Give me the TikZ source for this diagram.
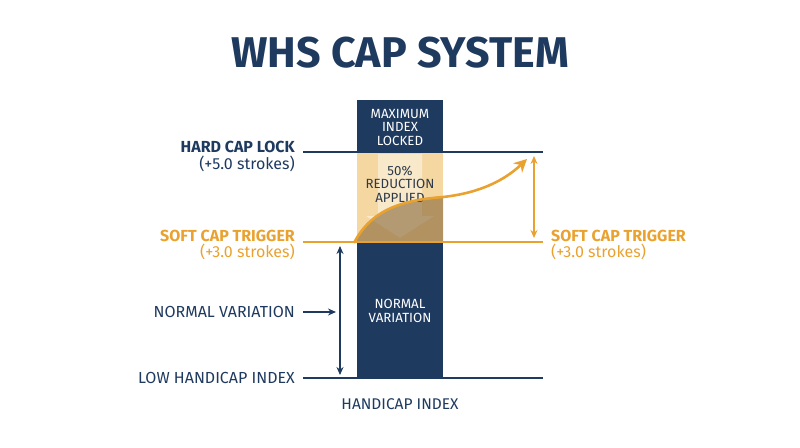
\documentclass[tikz,border=0pt]{standalone}
\usepackage{fontspec}
\setmainfont{Fira Sans}
\usetikzlibrary{arrows.meta}
\definecolor{navy}{HTML}{1E3A5F}
\definecolor{gold}{HTML}{E9A22F}
\definecolor{pale}{HTML}{F5D7A2}
\definecolor{brown}{HTML}{7A5A2A}
\definecolor{inktext}{HTML}{2E3A4A}
\tikzset{
  lbl/.style={font=\fontsize{16}{18}\selectfont, text=navy, inner sep=0pt},
  blbl/.style={font=\fontsize{16}{18}\selectfont\bfseries, inner sep=0pt},
  barlbl/.style={font=\fontsize{13.3}{13.5}\selectfont, text=white, align=center, inner sep=0pt},
  navyarrow/.style={draw=navy, line width=1.4pt, -{Stealth[length=8pt,width=7pt]}},
  goldarrow/.style={draw=gold, line width=1.6pt, {Stealth[length=8pt,width=7pt]}-{Stealth[length=8pt,width=7pt]}},
}
\begin{document}
\begin{tikzpicture}[x=1pt,y=-1pt]
\useasboundingbox (0,0) rectangle (800,447);
% title
\node[font=\fontsize{43}{46}\selectfont\bfseries, text=navy, inner sep=0pt] (title) at (400,53) {WHS CAP SYSTEM};
% bar parts
\fill[navy] (357,100) rectangle (443,152);
\fill[pale] (357,152) rectangle (443,242);
\fill[white, opacity=0.45] (378,154) -- (422,154) -- (422,216) -- (434,216) -- (400,238) -- (366,216) -- (378,216) -- cycle;
\begin{scope}
  \clip (357,152) rectangle (443,242);
  \fill[brown, opacity=0.55] (355,243) .. controls (372,208) and (405,200) .. (443,197) -- (445,243) -- cycle;
\end{scope}
\fill[navy] (357,242) rectangle (443,378);
% bar texts
\node[barlbl] (maxi) at (400,127) {MAXIMUM\\INDEX\\LOCKED};
\node[barlbl, text=inktext] (red) at (400,184) {50\%\\REDUCTION\\APPLIED};
\node[barlbl] (norm) at (400,311) {NORMAL\\VARIATION};
% lines
\coordinate (hl) at (303,152); \coordinate (hr) at (543,152);
\coordinate (sl) at (303,242); \coordinate (sr) at (543,242);
\coordinate (ll) at (303,378); \coordinate (lr) at (543,378);
\draw[navy, line width=2.6pt] (hl) -- (hr);
\draw[gold, line width=2.8pt] (sl) -- (sr);
\draw[navy, line width=1.6pt] (ll) -- (lr);
% orange curve
\coordinate (cs) at (354,243);
\coordinate (ce) at (527,159);
\draw[gold, line width=2.6pt, -{Stealth[length=13pt,width=13pt]}] (cs) .. controls (372,208) and (405,200) .. (443,197) .. controls (480,193) and (505,180) .. (ce);
% left labels
\node[blbl, text=navy, anchor=east] (hard) at (295,147) {HARD CAP LOCK};
\node[lbl, anchor=east] (hardv) at (295,164) {(+5.0 strokes)};
\node[blbl, text=gold, anchor=east] (soft) at (295,236) {SOFT CAP TRIGGER};
\node[lbl, text=gold, anchor=east] (softv) at (295,252) {(+3.0 strokes)};
\node[lbl, anchor=east] (nv) at (295,312) {NORMAL VARIATION};
\node[lbl, anchor=east] (low) at (295,378) {LOW HANDICAP INDEX};
% right labels
\node[blbl, text=gold, anchor=west] (soft2) at (551,236) {SOFT CAP TRIGGER};
\node[lbl, text=gold, anchor=west] (softv2) at (551,252) {(+3.0 strokes)};
% axis label
\node[lbl, font=\fontsize{15.5}{17}\selectfont] (axis) at (400,404) {HANDICAP INDEX};
% arrows
\coordinate (nva) at (303,312); \coordinate (nvb) at (336,312);
\draw[navyarrow] (nva) -- (nvb);
\coordinate (da) at (340,246); \coordinate (db) at (340,375);
\draw[draw=navy, line width=1.4pt, {Stealth[length=8pt,width=7pt]}-{Stealth[length=8pt,width=7pt]}] (da) -- (db);
\coordinate (ga) at (534,156); \coordinate (gb) at (534,238);
\draw[goldarrow] (ga) -- (gb);
\end{tikzpicture}
\end{document}
